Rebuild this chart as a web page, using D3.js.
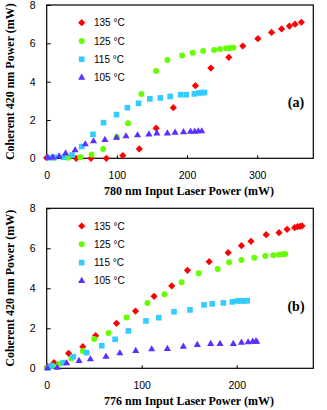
<!DOCTYPE html>
<html><head><meta charset="utf-8">
<script src="https://cdn.jsdelivr.net/npm/d3@7"></script>
<style>html,body{margin:0;padding:0;background:#fff;}</style>
</head><body><div id="chart"></div>
<script>
// Panel (a): 780 nm input
const a135 = [[0,0.03],[42,0],[63,0],[85,0],[108.5,0.14],[132,0.49],[156,1.57],[180.5,2.64],[212,3.79],[234,4.71],[259.5,5.27],[279.5,5.86],[301,6.24],[320.5,6.57],[334.8,6.75],[346,6.9],[354,7.0],[363,7.1]];
const a125 = [[10,0.02],[31,0.03],[48,0.05],[64,0.2],[80.5,0.49],[100,1.1],[116,1.83],[135,3.36],[156,4.56],[172,5.13],[193,5.36],[208,5.51],[223,5.6],[238.6,5.65],[247,5.7],[256,5.74],[261,5.76],[266,5.77]];
const a115 = [[3.3,0.03],[10.5,0.05],[24,0.05],[36,0.17],[50,0.61],[66,1.25],[81,1.86],[99.5,2.28],[115,2.64],[131,2.87],[147,3.1],[162,3.15],[176,3.23],[191,3.32],[199,3.32],[210.5,3.36],[217,3.41],[222,3.43],[225,3.43]];
const a105 = [[1.4,0.03],[8.6,0.05],[17.6,0.1],[27,0.26],[40.5,0.42],[55,0.73],[66.7,0.89],[83,0.96],[99.5,1.08],[113,1.15],[129.5,1.2],[145.7,1.25],[157,1.3],[172,1.3],[183,1.34],[195,1.36],[205,1.39],[211,1.39],[216,1.41],[221,1.41]];
// Panel (b): 776 nm input
const b135 = [[0.7,0.08],[7.7,0.28],[23,0.75],[38,1.08],[51.5,1.63],[73.5,2.25],[93.5,2.86],[113,3.6],[131.6,4.12],[148.2,4.9],[171,5.33],[191,5.78],[205,6.13],[215,6.35],[231,6.68],[244.5,6.78],[253,6.95],[261,7.03],[264,7.08],[266.6,7.1],[268.7,7.12]];
const b125 = [[0.5,0.03],[6,0.13],[13.3,0.23],[26,0.49],[38,0.87],[50,1.46],[65,1.77],[84,2.54],[106,3.27],[124,3.7],[142,4.3],[160,4.75],[180,4.97],[192,5.3],[205,5.41],[218.5,5.53],[230,5.62],[238.5,5.65],[244.5,5.68],[248,5.7],[251,5.72]];
const b115 = [[1.5,0.03],[5.2,0.13],[17.5,0.28],[28,0.58],[42,0.78],[58,1.13],[72,1.45],[86,1.87],[104.5,2.37],[118,2.53],[134,2.83],[150.8,2.92],[165.6,3.17],[174.3,3.22],[186,3.27],[195.4,3.32],[201,3.37],[204.5,3.37],[208,3.37],[211,3.38]];
const b105 = [[0.7,0],[11,0.03],[21,0.25],[34,0.37],[46,0.45],[62.4,0.58],[77,0.75],[93.7,0.87],[110.5,0.95],[127,0.97],[143.8,1.08],[158.5,1.17],[172.6,1.22],[182.4,1.22],[196.4,1.22],[205,1.28],[212,1.3],[216.8,1.33],[220,1.33],[221,1.33]];

const legendLabels = ["135 °C","125 °C","115 °C","105 °C"];
const colors = ["#ff0000","#66ff00","#33ccff","#5c2eff"];
const yTicks = [0,2,4,6,8];
const xTicksA = [0,100,200,300];
const xTicksB = [0,100,200];

const W = 327, H = 410;
const svg = d3.select("#chart").append("svg").attr("width",W).attr("height",H)
  .style("background","#fff");

const symbols = [
  d3.symbol().type(d3.symbolSquare).size(26),
  d3.symbol().type(d3.symbolCircle).size(28),
  d3.symbol().type(d3.symbolSquare).size(32),
  d3.symbol().type(d3.symbolTriangle).size(22)
];
const rot = [45,0,0,0];

function panel(cfg){
  const g = svg.append("g");
  const x = d3.scaleLinear().domain(cfg.xDomain).range([46.7, 313.3]);
  const y = d3.scaleLinear().domain([0,8]).range([cfg.bottom, cfg.top]);
  g.append("rect").attr("x",x.range()[0]).attr("y",cfg.top)
    .attr("width",x.range()[1]-x.range()[0]).attr("height",cfg.bottom-cfg.top)
    .attr("fill","none").attr("stroke","#000").attr("stroke-width",1.2);
  const ya = g.append("g").attr("transform",`translate(${x.range()[0]},0)`)
    .call(d3.axisRight(y).tickValues(yTicks).tickSize(4).tickFormat(d3.format("d")));
  ya.select(".domain").remove();
  ya.selectAll("line").attr("stroke","#000");
  ya.selectAll("text").attr("x",-11).attr("text-anchor","end")
    .style("font-family","'Liberation Sans', Arial, sans-serif").style("font-size","10.5px").attr("fill","#000");
  const xa = g.append("g").attr("transform",`translate(0,${cfg.bottom})`)
    .call(d3.axisTop(x).tickValues(cfg.xTicks).tickSize(3).tickFormat(d3.format("d")));
  xa.select(".domain").remove();
  xa.selectAll("line").attr("stroke","#000");
  xa.selectAll("text").attr("y",17).attr("dy","0.35em")
    .style("font-family","'Liberation Sans', Arial, sans-serif").style("font-size","10.5px").attr("fill","#000");
  cfg.series.forEach((s,i)=>{
    g.append("g").selectAll("path").data(s).join("path")
      .attr("transform",d=>`translate(${x(d[0])},${y(d[1])}) rotate(${rot[i]})`)
      .attr("d",symbols[i]).attr("fill",colors[i]);
  });
  legendLabels.forEach((lab,i)=>{
    const ly = cfg.top + 17.7 + i*18.3;
    g.append("path").attr("transform",`translate(81.7,${ly}) rotate(${rot[i]})`).attr("d",symbols[i]).attr("fill",colors[i]);
    g.append("text").attr("x",94).attr("y",ly).attr("dy","0.35em").text(lab)
      .style("font-family","'Liberation Sans', Arial, sans-serif").style("font-size","10px");
  });
  g.append("text").attr("x",296).attr("y",cfg.tagY).attr("dy","0.35em").attr("text-anchor","middle")
    .text(cfg.tag).style("font-family","'Liberation Serif', 'Times New Roman', serif")
    .style("font-size","14px").style("font-weight","bold");
  g.append("text").attr("x",189).attr("y",cfg.xLabelY).attr("text-anchor","middle")
    .text(cfg.xLabel).style("font-family","'Liberation Serif', 'Times New Roman', serif")
    .style("font-size","12px").style("font-weight","bold");
  g.append("text").attr("transform",`translate(13.5,${(cfg.top+cfg.bottom)/2}) rotate(-90)`)
    .attr("text-anchor","middle")
    .text("Coherent 420 nm Power (mW)").style("font-family","'Liberation Serif', 'Times New Roman', serif")
    .style("font-size","12px").style("font-weight","bold");
}

panel({xDomain:[0,380], top:5, bottom:158.3, xTicks:xTicksA, series:[a135,a125,a115,a105],
  tag:"(a)", tagY:102, xLabel:"780 nm Input Laser Power (mW)", xLabelY:195});
panel({xDomain:[0,280.6], top:208.3, bottom:368.3, xTicks:xTicksB, series:[b135,b125,b115,b105],
  tag:"(b)", tagY:306, xLabel:"776 nm Input Laser Power (mW)", xLabelY:405});
</script></body></html>
